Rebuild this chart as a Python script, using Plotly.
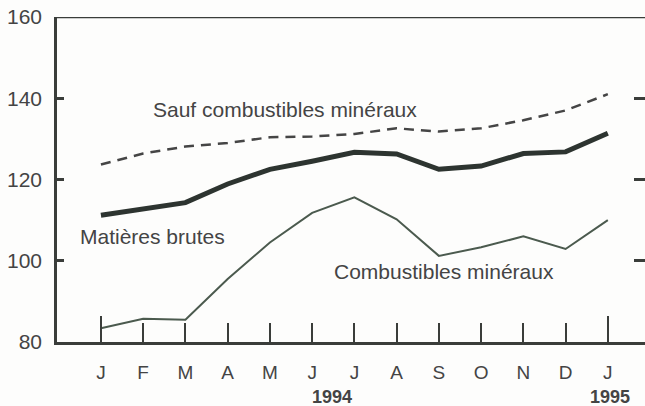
import plotly.graph_objects as go

months = ["J", "F", "M", "A", "M", "J", "J", "A", "S", "O", "N", "D", "J"]
x_idx = list(range(len(months)))

sauf_combustibles = [123.7, 126.4, 128.1, 129.0, 130.4, 130.6, 131.2, 132.6, 131.8, 132.6, 134.6, 137.0, 141.0]
matieres_brutes = [111.2, 112.9, 114.3, 118.9, 122.5, 124.5, 126.7, 126.3, 122.5, 123.3, 126.4, 126.8, 131.4]
combustibles = [83.4, 85.7, 85.5, 95.5, 104.5, 111.8, 115.6, 110.2, 101.2, 103.3, 106.0, 102.9, 110.0]

y_ticks = [80, 100, 120, 140, 160]

FONT = "Liberation Sans, Arial, sans-serif"
TXT = "#444444"
AX = "#3a3d3a"

fig = go.Figure()
fig.add_trace(go.Scatter(x=x_idx, y=sauf_combustibles, mode="lines",
                         line=dict(color="#454545", width=2.5, dash="10px,7px"), showlegend=False))
fig.add_trace(go.Scatter(x=x_idx, y=matieres_brutes, mode="lines",
                         line=dict(color="#2d3430", width=5), showlegend=False))
fig.add_trace(go.Scatter(x=x_idx, y=combustibles, mode="lines",
                         line=dict(color="#4b5a4e", width=2), showlegend=False))

# invisible traces to activate secondary axes (right ticks, long x ticks)
fig.add_trace(go.Scatter(x=[0], y=[None], yaxis="y2", showlegend=False, hoverinfo="skip"))
fig.add_trace(go.Scatter(x=[None], y=[100], xaxis="x2", showlegend=False, hoverinfo="skip"))

xr = [-1.04, 12.88]
fig.update_layout(
    width=645, height=406,
    margin=dict(l=57, r=0, t=17, b=64),
    paper_bgcolor="#fdfdfc", plot_bgcolor="#fdfdfc",
    font=dict(family=FONT, color=TXT, size=15),
    xaxis=dict(range=xr, tickvals=x_idx, ticktext=months, ticks="inside", ticklen=19,
               tickwidth=2, tickcolor=AX, showgrid=False, zeroline=False, automargin=False,
               showline=True, linecolor=AX, linewidth=2.5, mirror=False,
               tickfont=dict(size=19, color=TXT), ticklabelstandoff=11),
    xaxis2=dict(range=xr, overlaying="x", tickvals=[0, 12], ticktext=["", ""], ticks="inside",
                ticklen=26, tickwidth=2, tickcolor=AX, showgrid=False, zeroline=False,
                automargin=False, showline=False, side="bottom"),
    yaxis=dict(range=[80, 160], tickvals=y_ticks, ticktext=[str(v) for v in y_ticks],
               ticks="inside", ticklen=7, tickwidth=2.5, tickcolor=AX, showgrid=False,
               zeroline=False, showline=True, linecolor=AX, linewidth=2.5, automargin=False,
               tickfont=dict(size=21, color=TXT), ticklabelstandoff=8),
    yaxis2=dict(range=[80, 160], overlaying="y", side="right", tickvals=[100, 120, 140],
                showticklabels=False, ticks="inside", ticklen=11, tickwidth=2.5, tickcolor=AX,
                showgrid=False, zeroline=False, showline=False, automargin=False),
)

# top border
fig.add_shape(type="line", xref="paper", yref="y", x0=0, x1=1, y0=160, y1=160,
              line=dict(color=AX, width=2.5))

ann = [
    ("Sauf combustibles minéraux", 4.35, 137.3),
    ("Matières brutes", 1.23, 106.0),
    ("Combustibles minéraux", 8.12, 97.3),
]
for text, ax, ay in ann:
    fig.add_annotation(x=ax, y=ay, text=text, showarrow=False,
                       font=dict(size=21, color=TXT, family=FONT))

fig.add_annotation(x=5.47, y=0, yref="paper", yanchor="middle", yshift=-55, text="<b>1994</b>",
                   showarrow=False, font=dict(size=18, color=TXT))
fig.add_annotation(x=12.05, y=0, yref="paper", yanchor="middle", yshift=-55, text="<b>1995</b>",
                   showarrow=False, font=dict(size=18, color=TXT))

fig.write_html("out.html", config={"displayModeBar": False},
               post_script="document.body.style.margin='0';document.body.style.overflow='hidden';")
